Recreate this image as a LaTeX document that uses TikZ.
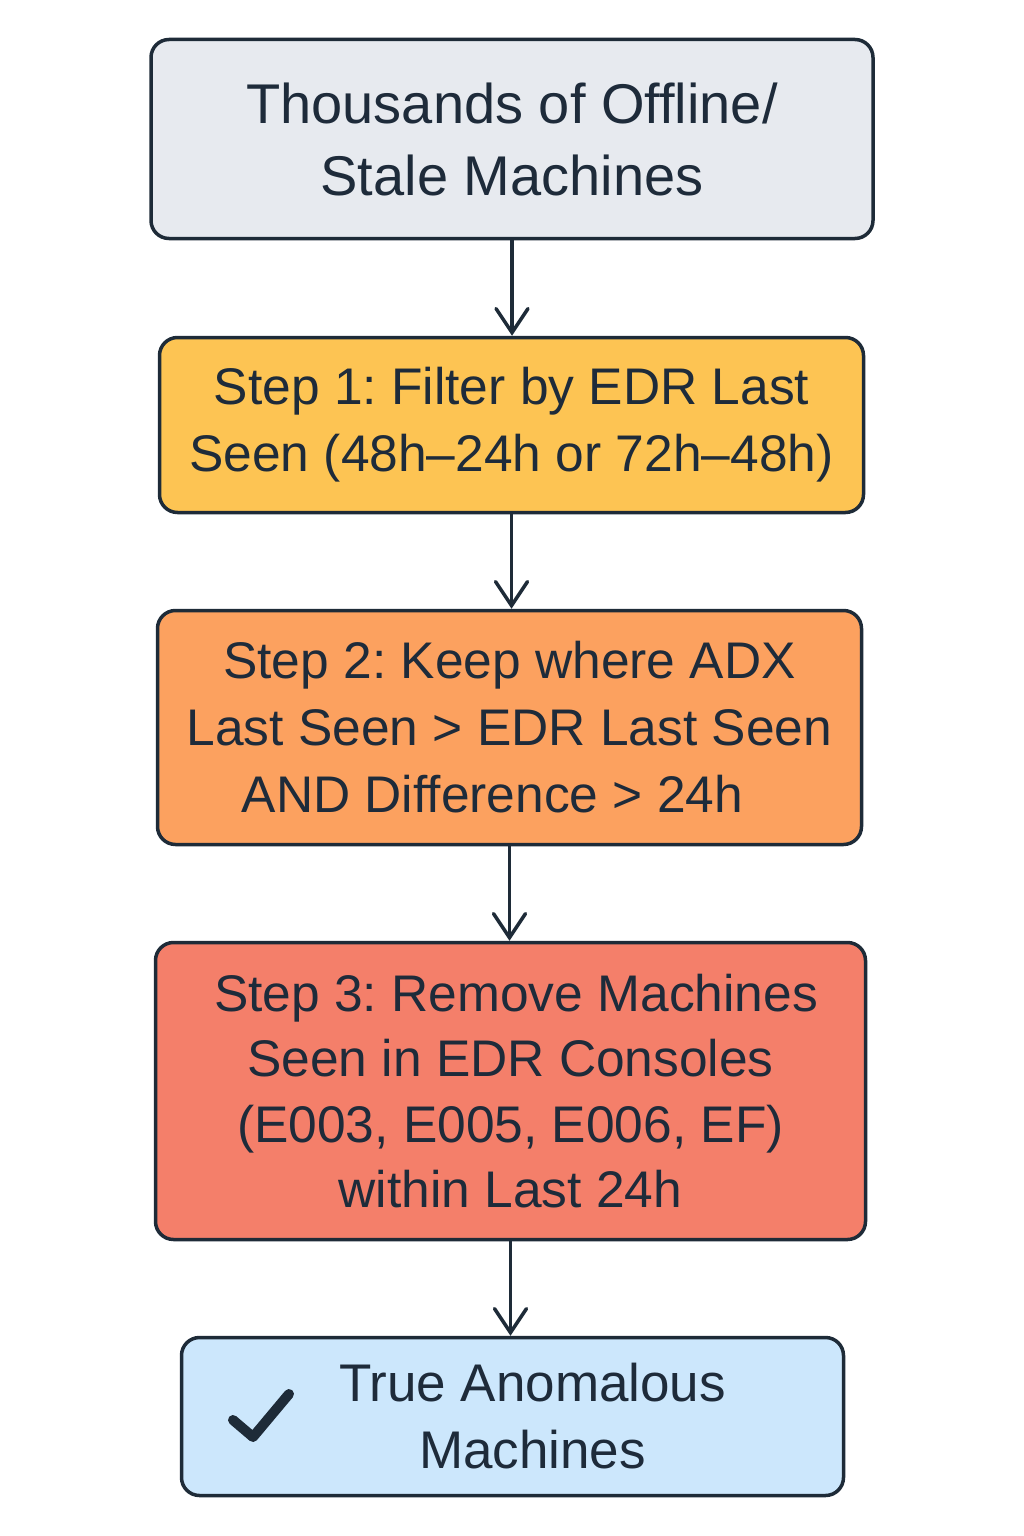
\documentclass[tikz,border=0pt]{standalone}
\usepackage{fontspec}
\setmainfont{Liberation Sans}
\usetikzlibrary{arrows.meta}
\definecolor{edge}{HTML}{1E2B38}
\definecolor{ink}{HTML}{1E2B3A}
\definecolor{cgray}{HTML}{E7EAEF}
\definecolor{cyellow}{HTML}{FDC453}
\definecolor{corange}{HTML}{FCA15F}
\definecolor{cred}{HTML}{F47F6A}
\definecolor{cblue}{HTML}{CCE7FC}
\frenchspacing
\begin{document}
\begin{tikzpicture}[x=1pt,y=-1pt,
  box/.style={draw=edge, line width=3.5pt, rounded corners=18pt, align=center,
    text=ink, inner sep=0pt, font=\frenchspacing\fontsize{51.5}{67}\selectfont},
  arr/.style={draw=edge, line width=3.5pt,
    -{Straight Barb[length=24pt,width=32pt,line cap=round]}}]
\useasboundingbox (0,0) rectangle (1024,1536);
\node[box, fill=cgray, minimum width=722pt, minimum height=199pt,
  font=\frenchspacing\fontsize{56}{72}\selectfont] (b1) at (512,139)
  {Thousands of Offline/\\Stale Machines};
\node[box, fill=cyellow, minimum width=704pt, minimum height=175pt] (b2) at (511.5,425)
  {Step 1: Filter by EDR Last\\Seen (48h–24h or 72h–48h)};
\node[box, fill=corange, minimum width=704pt, minimum height=234pt] (b3) at (509.5,727.5)
  {Step 2: Keep where ADX\\Last Seen > EDR Last Seen\hspace*{14pt}\\AND Difference > 24h\hspace*{34pt}};
\node[box, fill=cred, minimum width=710pt, minimum height=297pt,
  font=\frenchspacing\fontsize{51.5}{65.5}\selectfont] (b4) at (510.5,1091)
  {\hspace*{11pt}Step 3: Remove Machines\\Seen in EDR Consoles\hspace*{25pt}\\(E003, E005, E006, EF)\hspace*{43pt}\\within Last 24h};
\node[box, fill=cblue, minimum width=662pt, minimum height=158pt,
  font=\frenchspacing\fontsize{53}{67}\selectfont] (b5) at (512.5,1416.5)
  {\hspace*{40pt}True Anomalous\\\hspace*{40pt}Machines};
\draw[edge, line width=10pt, line cap=round, line join=round]
  (233,1420) -- (253,1437) -- (289,1394);
\draw[arr] (b1.south) -- (b1.south |- b2.north);
\draw[arr] (b2.south) -- (b2.south |- b3.north);
\draw[arr] (b3.south) -- (b3.south |- b4.north);
\draw[arr] (b4.south) -- (b4.south |- b5.north);
\end{tikzpicture}
\end{document}
